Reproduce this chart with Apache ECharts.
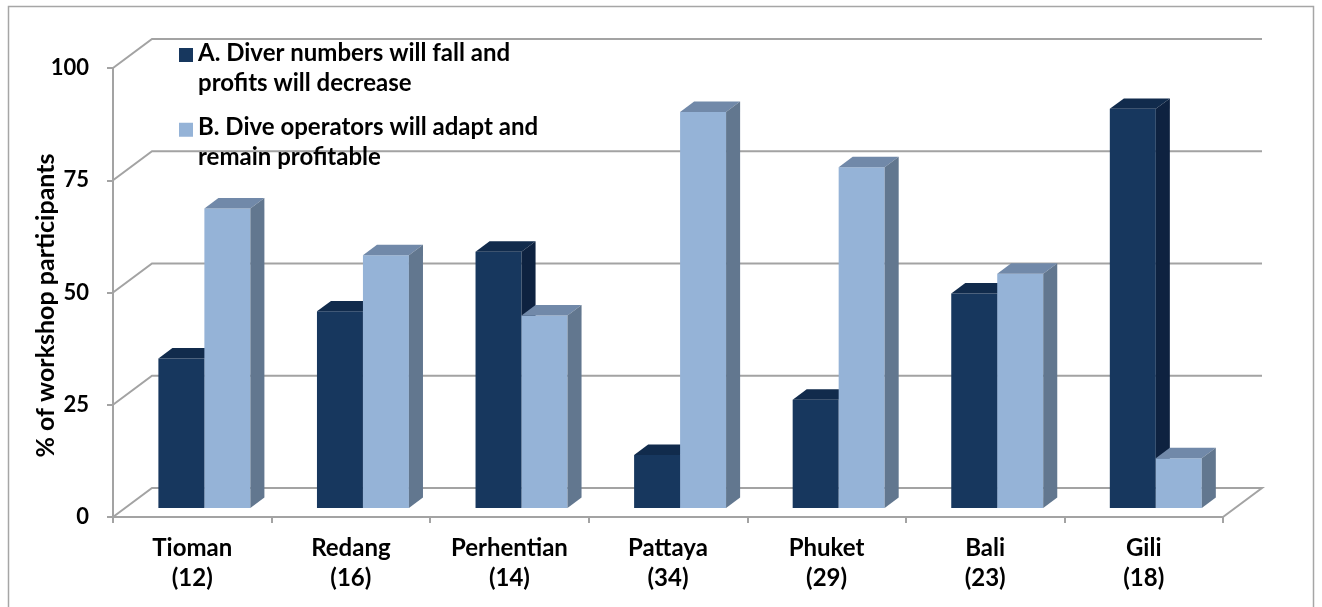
<!DOCTYPE html>
<html>
<head>
<meta charset="utf-8">
<script src="https://cdn.jsdelivr.net/npm/echarts@6/dist/echarts.min.js"></script>
<style>
  html, body { margin: 0; padding: 0; background: #ffffff; }
  #chart { width: 1322px; height: 607px; }
</style>
</head>
<body>
<div id="chart"></div>
<script>
// Survey sites with number of workshop participants
const categories = ['Tioman\n(12)', 'Redang\n(16)', 'Perhentian\n(14)', 'Pattaya\n(34)', 'Phuket\n(29)', 'Bali\n(23)', 'Gili\n(18)'];
const seriesNames = [
  'A. Diver numbers will fall and\nprofits will decrease',
  'B. Dive operators will adapt and\nremain profitable'
];
// % of workshop participants choosing each answer
const valuesA = [33.3, 43.8, 57.1, 11.8, 24.1, 47.8, 88.9];
const valuesB = [66.7, 56.3, 42.9, 88.2, 75.9, 52.2, 11.1];
const yTicks = [0, 25, 50, 75, 100];

// 3D look: depth of the floor in pixels, bar placement inside that depth
const DEPTH = { dx: 39, dy: 29 };
const BAR = { front: 0.31, depth: 0.36, widthRatio: 0.29 };
const COLORS = [
  { front: '#17375E', top: '#112B4C', side: '#0E2240' },
  { front: '#95B3D7', top: '#7189A9', side: '#62778F' }
];
const GRID_COLOR = '#A3A3A3';
const FONT = 'Lato';

// Legend swatch: a 14px square near the top of a taller icon box,
// so it lines up with the first line of a two-line legend label.
const LEGEND_ICON = 'path://M0,0H0.01V0.01H0Z M0,2H14V16H0Z M0,43.99H0.01V44H0Z';

function barRenderer(k) {
  const c = COLORS[k];
  return function (params, api) {
    const i = api.value(0);
    const v = api.value(1);
    const base = api.coord([i, 0]);
    const top = api.coord([i, v]);
    const w = api.size([1, 0])[0] * BAR.widthRatio;
    const ox = DEPTH.dx * BAR.front, oy = -DEPTH.dy * BAR.front;
    const bx = DEPTH.dx * BAR.depth, by = -DEPTH.dy * BAR.depth;
    const x0 = base[0] + ox + (k === 0 ? -w : 0);
    const x1 = x0 + w;
    const yb = base[1] + oy;
    const yt = top[1] + oy;
    return {
      type: 'group',
      children: [
        { type: 'polygon', shape: { points: [[x0, yt], [x1, yt], [x1, yb], [x0, yb]] }, style: { fill: c.front } },
        { type: 'polygon', shape: { points: [[x0, yt], [x0 + bx, yt + by], [x1 + bx, yt + by], [x1, yt]] }, style: { fill: c.top } },
        { type: 'polygon', shape: { points: [[x1, yt], [x1 + bx, yt + by], [x1 + bx, yb + by], [x1, yb]] }, style: { fill: c.side } }
      ]
    };
  };
}

// Side wall diagonals and back-wall gridlines, plus the floor's right edge
function wallRenderer(params, api) {
  const v = api.value(1);
  const cs = params.coordSys;
  const y = api.coord([0, v])[1];
  const xl = cs.x, xr = cs.x + cs.width;
  const pts = [[xl, y], [xl + DEPTH.dx, y - DEPTH.dy], [xr + DEPTH.dx, y - DEPTH.dy]];
  if (v === 0) pts.push([xr, y]);
  return {
    type: 'polyline',
    shape: { points: pts },
    style: { stroke: GRID_COLOR, lineWidth: 2, fill: null }
  };
}

const legendTop = [38, 112.7];

const option = {
  animation: false,
  backgroundColor: '#ffffff',
  graphic: [{
    type: 'rect',
    shape: { x: 8.5, y: 6.5, width: 1305, height: 640 },
    style: { fill: null, stroke: '#A6A6A6', lineWidth: 1.5 },
    silent: true
  }],
  legend: [0, 1].map(k => ({
    data: [seriesNames[k]],
    left: 179,
    top: legendTop[k],
    orient: 'vertical',
    padding: 0,
    itemWidth: 14,
    itemHeight: 44,
    itemGap: 0,
    icon: LEGEND_ICON,
    selectedMode: false,
    textStyle: {
      fontFamily: FONT, fontWeight: 'bold', fontSize: 24, lineHeight: 30, color: '#000000'
    }
  })),
  grid: { left: 113, right: 99, top: 68, bottom: 90, containLabel: false },
  xAxis: {
    type: 'category',
    data: categories,
    axisLine: { show: true, lineStyle: { color: GRID_COLOR, width: 2 } },
    axisTick: { show: true, length: 6, lineStyle: { color: GRID_COLOR, width: 2 } },
    axisLabel: {
      margin: 16, fontFamily: FONT, fontWeight: 'bold', fontSize: 24,
      lineHeight: 30, color: '#000000', interval: 0
    },
    splitLine: { show: false }
  },
  yAxis: {
    type: 'value',
    min: 0, max: 100, interval: 25,
    name: '% of workshop participants',
    nameLocation: 'middle',
    nameRotate: 90,
    nameGap: 55,
    nameMoveOverlap: false,
    nameTextStyle: {
      fontFamily: FONT, fontWeight: 'bold', fontSize: 25, color: '#000000',
      padding: [0, 26, 0, 0]
    },
    axisLine: { show: true, lineStyle: { color: GRID_COLOR, width: 2 } },
    axisTick: { show: true, length: 6, lineStyle: { color: GRID_COLOR, width: 2 } },
    axisLabel: {
      margin: 24, fontFamily: FONT, fontWeight: 'bold', fontSize: 22, color: '#000000',
      customValues: yTicks
    },
    splitLine: { show: false }
  },
  series: [
    {
      type: 'custom',
      name: 'walls',
      renderItem: wallRenderer,
      data: yTicks.map(v => [0, v]),
      silent: true,
      z: 1
    },
    {
      type: 'custom',
      name: seriesNames[0],
      renderItem: barRenderer(0),
      itemStyle: { color: COLORS[0].front },
      data: valuesA.map((v, i) => [i, v]),
      z: 3
    },
    {
      type: 'custom',
      name: seriesNames[1],
      renderItem: barRenderer(1),
      itemStyle: { color: COLORS[1].front },
      data: valuesB.map((v, i) => [i, v]),
      z: 3
    }
  ]
};

const chart = echarts.init(document.getElementById('chart'), null, { renderer: 'canvas' });
chart.setOption(option);
</script>
</body>
</html>
